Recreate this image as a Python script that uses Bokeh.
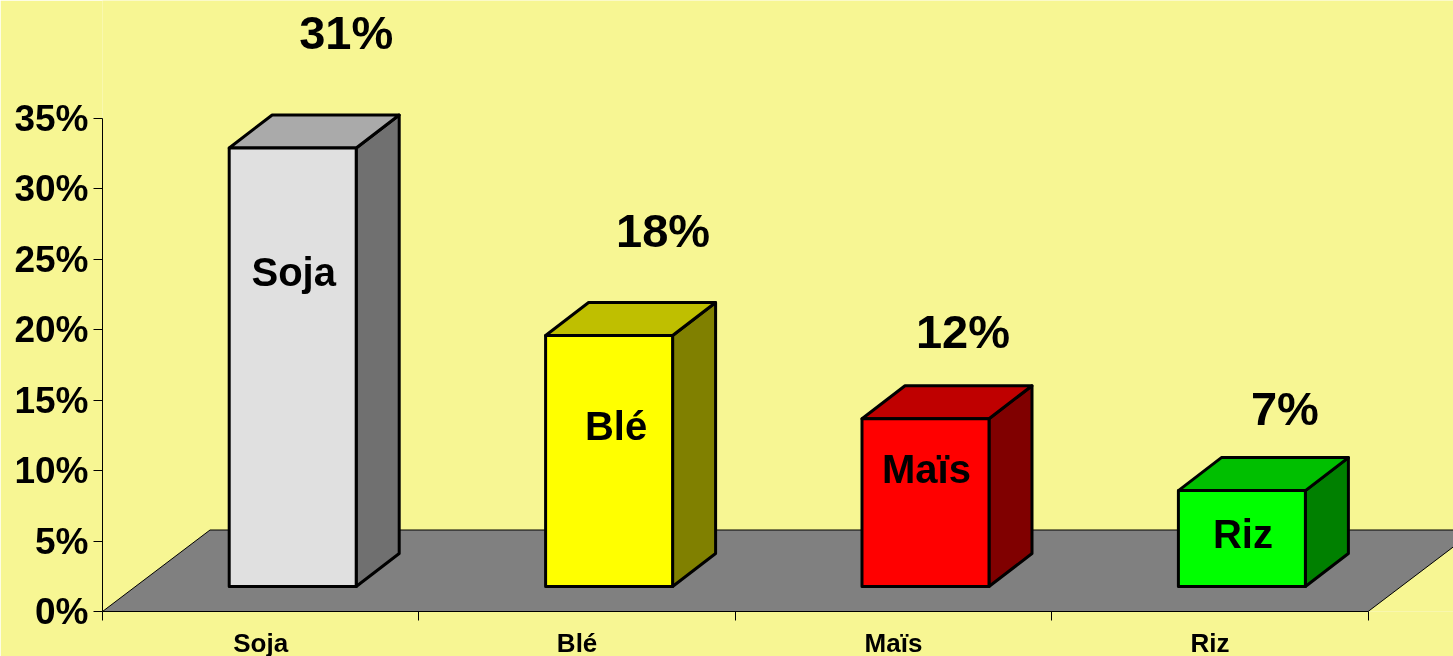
from bokeh.core.properties import value
from bokeh.embed import file_html
from bokeh.models import ColumnDataSource, FixedTicker, PrintfTickFormatter, Range1d
from bokeh.plotting import figure
from bokeh.resources import INLINE

# ---- data ----
categories = ["Soja", "Blé", "Maïs", "Riz"]
shares = [31.1, 17.8, 11.9, 6.8]
share_labels = ["31%", "18%", "12%", "7%"]
y_ticks = [0, 5, 10, 15, 20, 25, 30, 35]
front_colors = ["#E0E0E0", "#FFFF00", "#FF0000", "#00FF00"]
top_colors = ["#AAAAAA", "#BFBF00", "#BF0000", "#00BF00"]
side_colors = ["#707070", "#808000", "#800000", "#008000"]

# ---- style and layout ----
BG = "#F7F693"
FONT = value("Liberation Sans")
PX_X = 316.4    # pixels per category
PX_Y = 14.1     # pixels per percent
W, H = 1453, 660
LEFT, BOTTOM = 102, 49
bar_start, bar_width = 126.7 / PX_X, 127 / PX_X
bar_dx, bar_dy = 43 / PX_X, 33 / PX_Y
bar_base = 25 / PX_Y
floor_dx, floor_dy = 107.5 / PX_X, 81.5 / PX_Y
n = len(categories)
# pixel offsets of the labels from each bar's front-top-centre / front-bottom-centre
top_label_dx = [53.5, 54, 37.5, 43]
top_label_dy = [-115, -105, -87, -82]
inner_label_dx = [1, 7, 1, 1]
inner_label_dy = [-315, -161, -118, -53]

p = figure(
    width=W, height=H, output_backend="svg", toolbar_location=None,
    x_range=Range1d(0, (W - LEFT) / PX_X),
    y_range=Range1d(0, (H - BOTTOM) / PX_Y),
    min_border_left=LEFT, min_border_right=0, min_border_top=0, min_border_bottom=BOTTOM,
    background_fill_color=BG, border_fill_color=BG, outline_line_color=None,
    styles={"position": "fixed", "left": "0px", "top": "0px"},
)
p.grid.visible = False

# floor
p.patch(
    [0, n, n + floor_dx, floor_dx], [0, 0, floor_dy, floor_dy],
    fill_color="#808080", line_color="#000000", line_width=1,
)

# bars
lefts = [i + bar_start for i in range(n)]
rights = [x + bar_width for x in lefts]
tops = [bar_base + s for s in shares]
bases = [bar_base] * n

bars = dict(line_color="#000000", line_width=3, line_join="round")
p.patches(
    [[r, r + bar_dx, r + bar_dx, r] for r in rights],
    [[b, b + bar_dy, t + bar_dy, t] for b, t in zip(bases, tops)],
    fill_color=side_colors, **bars,
)
p.patches(
    [[l, l + bar_dx, r + bar_dx, r] for l, r in zip(lefts, rights)],
    [[t, t + bar_dy, t + bar_dy, t] for t in tops],
    fill_color=top_colors, **bars,
)
p.quad(left=lefts, right=rights, bottom=bases, top=tops, fill_color=front_colors, **bars)

# labels
centres = [(l + r) / 2 for l, r in zip(lefts, rights)]
top_src = ColumnDataSource(dict(x=centres, y=tops, t=share_labels, dx=top_label_dx, dy=top_label_dy))
p.text(
    "x", "y", text="t", source=top_src, x_offset="dx", y_offset="dy",
    text_font=FONT, text_font_style="bold", text_font_size="47px",
    text_align="center", text_baseline="alphabetic", text_color="#000000",
)
inner_src = ColumnDataSource(dict(x=centres, y=bases, t=categories, dx=inner_label_dx, dy=inner_label_dy))
p.text(
    "x", "y", text="t", source=inner_src, x_offset="dx", y_offset="dy",
    text_font=FONT, text_font_style="bold", text_font_size="40px",
    text_align="center", text_baseline="alphabetic", text_color="#000000",
)

# axes
ya = p.yaxis[0]
ya.ticker = FixedTicker(ticks=y_ticks)
ya.formatter = PrintfTickFormatter(format="%d%%")
ya.bounds = (y_ticks[0], y_ticks[-1])
ya.major_tick_in, ya.major_tick_out = 0, 9
ya.minor_tick_line_color = None
ya.major_label_standoff = 5
ya.major_label_text_font = "Liberation Sans"
ya.major_label_text_font_style = "bold"
ya.major_label_text_font_size = "37px"
ya.major_label_text_color = "#000000"
ya.axis_line_color = ya.major_tick_line_color = "#000000"

xa = p.xaxis[0]
mids = [i + 0.5 for i in range(n)]
xa.ticker = FixedTicker(ticks=mids, minor_ticks=list(range(n + 1)))
xa.major_label_overrides = dict(zip(mids, categories))
xa.bounds = (0, n)
xa.major_tick_line_color = None
xa.major_tick_in, xa.major_tick_out = 0, 9
xa.minor_tick_in, xa.minor_tick_out = 0, 9
xa.minor_tick_line_color = "#000000"
xa.axis_line_color = "#000000"
xa.major_label_standoff = 7
xa.major_label_text_font = "Liberation Sans"
xa.major_label_text_font_style = "bold"
xa.major_label_text_font_size = "26px"
xa.major_label_text_color = "#000000"

open("out.html", "w").write(file_html(p, INLINE))
